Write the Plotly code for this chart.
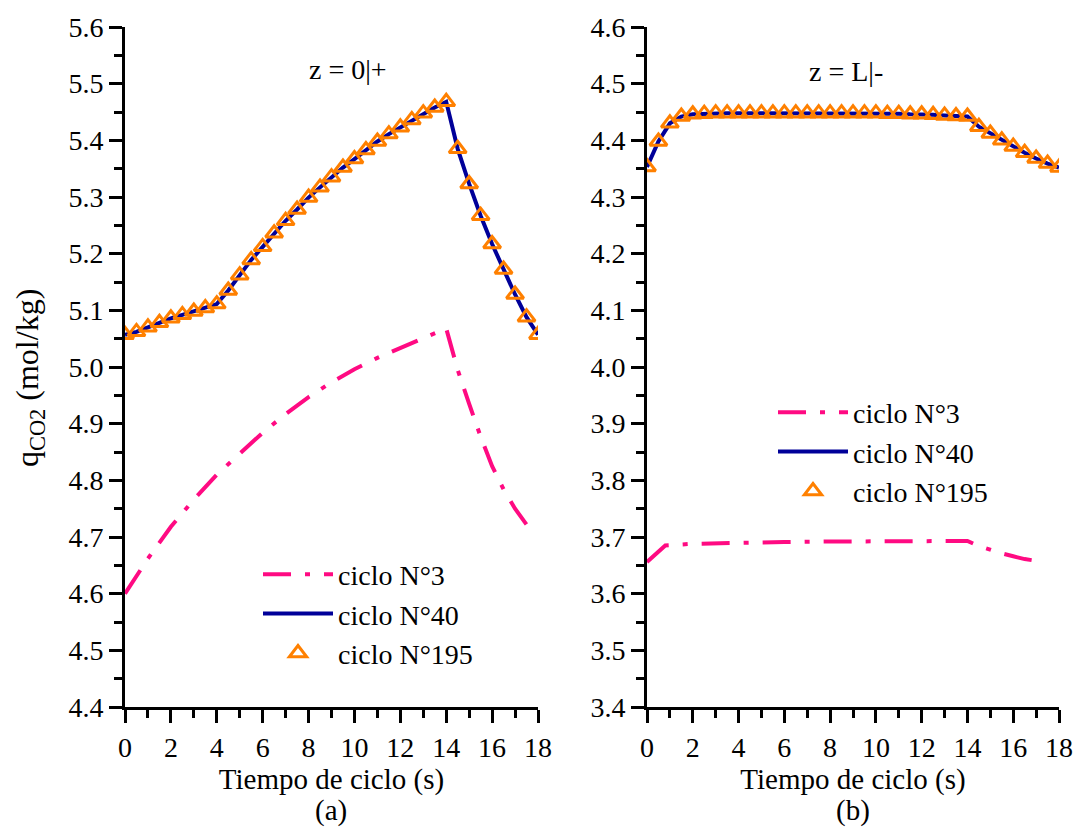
import plotly.graph_objects as go

# ---- data ----------------------------------------------------------------
# cycle time (s), 0.5 s steps, for cycles 40 and 195
t_full = [0, 0.5, 1, 1.5, 2, 2.5, 3, 3.5, 4, 4.5, 5, 5.5, 6, 6.5, 7, 7.5, 8, 8.5,
          9, 9.5, 10, 10.5, 11, 11.5, 12, 12.5, 13, 13.5, 14, 14.5, 15, 15.5,
          16, 16.5, 17, 17.5, 18]

# (a) z = 0|+
q40_a = [5.057, 5.062, 5.070, 5.078, 5.086, 5.092, 5.098, 5.104, 5.111, 5.135,
         5.162, 5.189, 5.212, 5.236, 5.258, 5.278, 5.299, 5.317, 5.335, 5.352,
         5.367, 5.383, 5.398, 5.411, 5.423, 5.436, 5.448, 5.458, 5.468, 5.385,
         5.323, 5.267, 5.217, 5.172, 5.128, 5.088, 5.057]
q195_a = [5.057, 5.062, 5.070, 5.078, 5.086, 5.092, 5.098, 5.104, 5.111, 5.135,
          5.162, 5.189, 5.212, 5.236, 5.258, 5.278, 5.299, 5.317, 5.335, 5.352,
          5.367, 5.383, 5.398, 5.411, 5.423, 5.436, 5.448, 5.458, 5.468, 5.385,
          5.323, 5.267, 5.217, 5.172, 5.128, 5.088, 5.057]
t3_a = [0, 1, 2, 3, 4, 5, 6, 7, 8, 9, 10, 11, 12, 13, 14,
        14.5, 15, 15.5, 16, 16.5, 17, 17.5]
q3_a = [4.600, 4.662, 4.718, 4.766, 4.810, 4.848, 4.884, 4.917, 4.947, 4.973,
        4.996, 5.016, 5.034, 5.051, 5.068, 4.995, 4.935, 4.877, 4.825, 4.784,
        4.750, 4.722]

# (b) z = L|-
q40_b = [4.353, 4.398, 4.430, 4.442, 4.446, 4.447, 4.448, 4.448, 4.448, 4.448,
         4.448, 4.448, 4.448, 4.448, 4.448, 4.448, 4.448, 4.448, 4.448, 4.448,
         4.448, 4.447, 4.447, 4.446, 4.446, 4.445, 4.444, 4.443, 4.442, 4.424,
         4.412, 4.400, 4.389, 4.378, 4.368, 4.359, 4.352]
q195_b = [4.353, 4.398, 4.430, 4.442, 4.446, 4.447, 4.448, 4.448, 4.448, 4.448,
          4.448, 4.448, 4.448, 4.448, 4.448, 4.448, 4.448, 4.448, 4.448, 4.448,
          4.448, 4.447, 4.447, 4.446, 4.446, 4.445, 4.444, 4.443, 4.442, 4.424,
          4.412, 4.400, 4.389, 4.378, 4.368, 4.359, 4.352]
t3_b = [0, 0.8, 2, 4, 6, 8, 10, 12, 14, 14.5, 15, 15.5, 16, 16.5, 17]
q3_b = [3.656, 3.685, 3.688, 3.690, 3.691, 3.692, 3.692, 3.693, 3.693, 3.684,
        3.677, 3.671, 3.666, 3.661, 3.658]

names = ["ciclo N°3", "ciclo N°40", "ciclo N°195"]
panel_titles = ["z = 0|+", "z = L|-"]
panel_tags = ["(a)", "(b)"]

# ---- style ---------------------------------------------------------------
FONT = '"Liberation Serif", "Times New Roman", "DejaVu Serif", serif'
PINK = "#FF0A82"
NAVY = "#000099"
ORANGE = "#FF8000"
W, H = 1077, 829

fig = go.Figure()

panels = [
    ("x", "y", "legend", t3_a, q3_a, q40_a, q195_a),
    ("x2", "y2", "legend2", t3_b, q3_b, q40_b, q195_b),
]
for xa, ya, leg, t3, q3, q40, q195 in panels:
    fig.add_trace(go.Scatter(
        x=t3, y=q3, xaxis=xa, yaxis=ya, legend=leg, name=names[0],
        mode="lines", line=dict(color=PINK, width=4, dash="28px,14px,5px,14px")))
    fig.add_trace(go.Scatter(
        x=t_full, y=q40, xaxis=xa, yaxis=ya, legend=leg, name=names[1],
        mode="lines", line=dict(color=NAVY, width=4)))
    fig.add_trace(go.Scatter(
        x=t_full, y=q195, xaxis=xa, yaxis=ya, legend=leg, name=names[2],
        mode="markers",
        marker=dict(symbol="triangle-up-open", size=15, color=ORANGE,
                    line=dict(color=ORANGE, width=3))))

tickfont = dict(family=FONT, size=28, color="black")


def xaxis_style(domain):
    return dict(
        domain=domain, range=[0, 18], tickmode="linear", tick0=0, dtick=2,
        ticks="outside", ticklen=13, tickwidth=3, tickcolor="black",
        minor=dict(dtick=1, ticks="outside", ticklen=8, tickwidth=3,
                   tickcolor="black"),
        showline=True, linewidth=3, linecolor="black", showgrid=False,
        zeroline=False, tickfont=tickfont, ticklabelstandoff=0,
        title=dict(text="Tiempo de ciclo (s)",
                   font=dict(family=FONT, size=29, color="black"), standoff=0),
    )


def yaxis_style(rng, anchor):
    return dict(
        domain=[1 - 707 / H, 1 - 27 / H], range=rng, anchor=anchor,
        tickmode="linear", tick0=rng[0], dtick=0.1, tickformat=".1f",
        ticks="outside", ticklen=13, tickwidth=3, tickcolor="black",
        minor=dict(dtick=0.05, ticks="outside", ticklen=8, tickwidth=3,
                   tickcolor="black"),
        showline=True, linewidth=3, linecolor="black", showgrid=False,
        zeroline=False, tickfont=tickfont,
    )


xa_dom = [125 / W, 538 / W]
xb_dom = [647 / W, 1059 / W]

legend_common = dict(
    font=dict(family=FONT, size=28, color="black"), bgcolor="rgba(0,0,0,0)",
    borderwidth=0, itemwidth=70, tracegroupgap=0, xanchor="left",
    yanchor="middle",
)


def label(text, x, y, size, angle=0):
    return dict(text=text, x=x / W, y=1 - y / H, xref="paper", yref="paper",
                xanchor="center", yanchor="middle", textangle=angle,
                showarrow=False,
                font=dict(family=FONT, size=size, color="black"))


fig.update_layout(
    width=W, height=H,
    margin=dict(l=0, r=0, t=0, b=0, autoexpand=False),
    paper_bgcolor="white", plot_bgcolor="white",
    font=dict(family=FONT, color="black"),
    xaxis=dict(xaxis_style(xa_dom), anchor="y"),
    yaxis=yaxis_style([4.4, 5.6], "x"),
    xaxis2=dict(xaxis_style(xb_dom), anchor="y2"),
    yaxis2=yaxis_style([3.4, 4.6], "x2"),
    legend=dict(legend_common, x=258 / W, y=1 - 614 / H),
    legend2=dict(legend_common, x=773 / W, y=1 - 452 / H),
    annotations=[
        label("q<sub>CO2</sub> (mol/kg)", 29, 378, 32, -90),
        label(panel_titles[0], 348, 70, 28),
        label(panel_titles[1], 846, 72, 28),
        label(panel_tags[0], 331, 810, 29),
        label(panel_tags[1], 853, 810, 29),
    ],
)

fig.write_html("out.html")
